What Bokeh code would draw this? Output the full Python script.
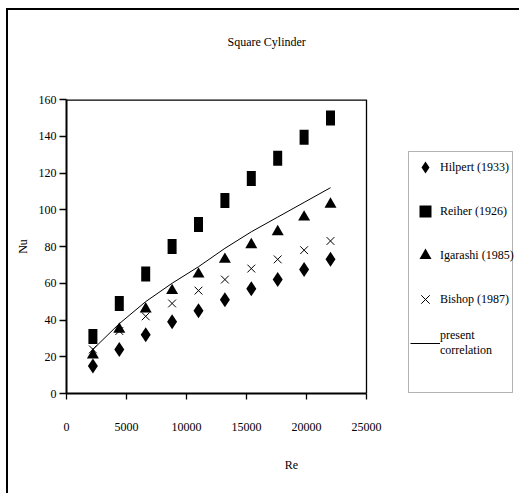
from bokeh.plotting import figure
from bokeh.models import (Range1d, Legend, LegendItem, Title, FixedTicker,
                          Span, BoxAnnotation)
from bokeh.embed import file_html
from bokeh.resources import INLINE

# ---- data ----
re_vals = [2200, 4400, 6600, 8800, 11000, 13200, 15400, 17600, 19800, 22000]
hilpert = [15, 24, 32, 39, 45, 51, 57, 62, 67.5, 73]
reiher = [31, 49, 65, 80, 92, 105, 117, 128, 139.5, 150]
igarashi = [21, 35, 46, 56, 65, 73, 81, 88, 96, 103]
bishop = [24, 34, 42, 49, 56, 62, 68, 73, 78, 83]
present = [24, 38, 50, 60, 69, 79, 88, 96, 104, 112]
x_ticks = [0, 5000, 10000, 15000, 20000, 25000]
y_ticks = [0, 20, 40, 60, 80, 100, 120, 140, 160]
title_text = "Square Cylinder"
x_label = "Re"
y_label = "Nu"
names = ["Hilpert (1933)", "Reiher (1926)", "Igarashi (1985)", "Bishop (1987)",
         "present\ncorrelation"]

FONT = "Liberation Serif"
NAN = float("nan")

# layout (pixels)
W, H = 513, 485
BL, BR, BT, BB = 58, 5, 89, 102
FRAME_W = W - BL - BR          # 450, plot area occupies first 300 px
PLOT_W = 300
x_min, x_max = x_ticks[0], x_ticks[-1]
y_min, y_max = y_ticks[0], y_ticks[-1]
x_end = x_min + (x_max - x_min) * FRAME_W / PLOT_W

p = figure(width=W, height=H, output_backend="svg", toolbar_location=None,
           x_range=Range1d(x_min, x_end), y_range=Range1d(y_min, y_max),
           min_border_left=BL, min_border_right=BR, min_border_top=BT,
           min_border_bottom=BB)
p.styles = {"border-left": "2px solid black", "border-top": "2px solid black",
            "margin-left": "6px", "margin-top": "8px"}
p.grid.visible = False
p.outline_line_color = None
p.background_fill_color = "white"
p.border_fill_color = "white"

for ax in (p.xaxis[0], p.yaxis[0]):
    ax.axis_line_width = 2
    ax.axis_line_color = "black"
    ax.major_tick_line_color = "black"
    ax.major_tick_line_width = 1.3
    ax.major_tick_in = 0
    ax.minor_tick_line_color = None
    ax.major_label_text_font = FONT
    ax.major_label_text_font_size = "12px"
    ax.major_label_text_color = "black"
    ax.axis_label_text_font = FONT
    ax.axis_label_text_font_size = "12px"
    ax.axis_label_text_font_style = "normal"
    ax.axis_label_text_color = "black"

p.xaxis.ticker = FixedTicker(ticks=x_ticks)
p.yaxis.ticker = FixedTicker(ticks=y_ticks)
p.xaxis.bounds = (x_min, x_max)
p.xaxis.major_tick_out = 6
p.yaxis.major_tick_out = 7
p.xaxis.major_label_standoff = 23
p.yaxis.major_label_standoff = 3
p.xaxis.axis_label = x_label
p.yaxis.axis_label = y_label
p.xaxis.axis_label_standoff = 24
p.yaxis.axis_label_standoff = 6

# plot-area frame: right and top edges
p.add_layout(Span(location=x_max, dimension="height", line_color="black",
                  line_width=1.3))
p.segment(x0=[x_min], y0=[y_max], x1=[x_max], y1=[y_max],
          line_color="black", line_width=2.6)

r_line = p.line(re_vals, present, line_color="black", line_width=1)
r_h = p.scatter(re_vals, hilpert, marker="diamond", size=15,
                fill_color="black", line_color=None)
r_r = p.rect(re_vals, reiher, width=9, height=15, width_units="screen",
             height_units="screen", fill_color="black", line_color=None)
r_i = p.scatter(re_vals, igarashi, marker="triangle", size=12,
                fill_color="black", line_color=None)
r_b = p.scatter(re_vals, bishop, marker="x", size=11, line_color="black",
                line_width=1)
# legend swatch for the Reiher squares (not drawn in the plot area)
r_r_key = p.scatter([NAN], [NAN], marker="square", size=10,
                    fill_color="black", line_color=None)

# legend box (screen units relative to the frame's bottom-left)
p.add_layout(BoxAnnotation(left=342, right=446, top=242, bottom=1,
                           left_units="screen", right_units="screen",
                           top_units="screen", bottom_units="screen",
                           fill_alpha=0, line_color="black", line_width=1))

legend = Legend(items=[
    LegendItem(label=names[0], renderers=[r_h]),
    LegendItem(label=names[1], renderers=[r_r_key]),
    LegendItem(label=names[2], renderers=[r_i]),
    LegendItem(label=names[3], renderers=[r_b]),
    LegendItem(label=names[4], renderers=[r_line]),
], location=(342, 33))
legend.border_line_alpha = 0
legend.background_fill_alpha = 0
legend.label_text_font = FONT
legend.label_text_font_size = "12px"
legend.label_text_color = "black"
legend.glyph_width = 30
legend.glyph_height = 30
legend.label_height = 30
legend.spacing = 14
legend.padding = 2
legend.margin = 0
legend.label_standoff = 0
p.add_layout(legend, "center")

# spacer panel, then the visible title further out
p.add_layout(Title(text=" ", text_font_size="12px", standoff=10), "above")
p.add_layout(Title(text=title_text, align="left", offset=161, standoff=46,
                   vertical_align="top",
                   text_font=FONT, text_font_size="12px",
                   text_font_style="normal", text_color="black"), "above")

open("out.html", "w").write(file_html(p, INLINE))
